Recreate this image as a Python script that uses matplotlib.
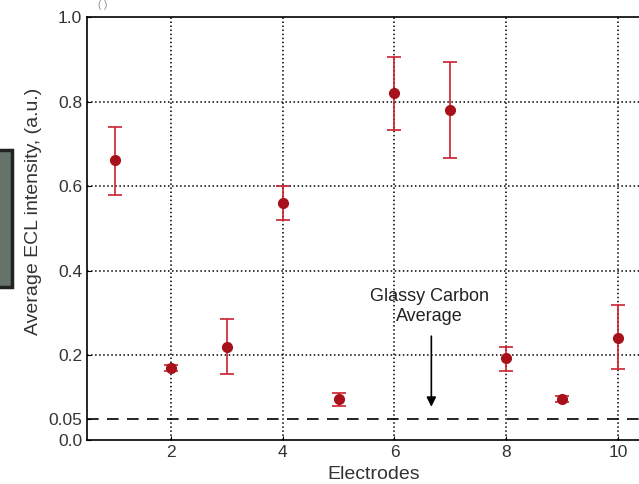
#!/usr/bin/env python3
# -*- coding: utf-8 -*-

import matplotlib
matplotlib.use('Agg')
import matplotlib.pyplot as plt
from matplotlib.patches import Rectangle

plt.rcParams['font.family'] = ['Liberation Sans', 'DejaVu Sans']

electrodes = [1, 2, 3, 4, 5, 6, 7, 8, 9, 10]
intensity = [0.661, 0.170, 0.219, 0.560, 0.096, 0.821, 0.779, 0.193, 0.097, 0.242]
err_upper = [0.739, 0.178, 0.285, 0.600, 0.111, 0.906, 0.894, 0.219, 0.105, 0.318]
err_lower = [0.579, 0.162, 0.155, 0.520, 0.080, 0.734, 0.666, 0.162, 0.089, 0.167]
glassy_carbon = 0.05

x_ticks = [2, 4, 6, 8, 10]
y_ticks = [0.0, 0.05, 0.2, 0.4, 0.6, 0.8, 1.0]
y_ticklabels = ['0.0', '0.05', '0.2', '0.4', '0.6', '0.8', '1.0']


def plot():
    fig = plt.figure(figsize=(6.39, 4.84), dpi=100)
    ax = fig.add_axes([87 / 639, 44 / 484, 559 / 639, 423 / 484])

    yerr = [[v - lo for v, lo in zip(intensity, err_lower)],
            [hi - v for v, hi in zip(intensity, err_upper)]]
    ax.errorbar(electrodes, intensity, yerr=yerr, fmt='o', color='#a8101a',
                ecolor='#cc2030', elinewidth=1.2, capsize=5, capthick=1.2,
                markersize=7, zorder=3)

    ax.axhline(glassy_carbon, color='black', linewidth=1.2, dashes=(7, 5), zorder=2)

    ax.annotate('', xy=(6.66, 0.072), xytext=(6.66, 0.252),
                arrowprops=dict(arrowstyle='-|>', color='black', lw=1.2,
                                mutation_scale=14))
    ax.text(6.62, 0.316, 'Glassy Carbon\nAverage', ha='center', va='center',
            fontsize=13, color='#222222', linespacing=1.2)

    ax.set_xlim(0.5, 10.5)
    ax.set_ylim(0.0, 1.0)
    ax.set_xticks(x_ticks)
    ax.set_yticks(y_ticks)
    ax.set_yticklabels(y_ticklabels)
    ax.tick_params(direction='in', length=3, labelsize=12.5, labelcolor='#333333')

    for t in x_ticks:
        ax.axvline(t, color='black', linestyle=':', linewidth=1.1, zorder=1)
    for t in [0.2, 0.4, 0.6, 0.8]:
        ax.axhline(t, color='black', linestyle=':', linewidth=1.1, zorder=1)

    ax.set_xlabel('Electrodes', fontsize=14, color='#333333')
    ax.set_ylabel('Average ECL intensity, (a.u.)', fontsize=14, color='#333333')
    ax.xaxis.set_label_coords(0.512, -0.062)
    ax.yaxis.set_label_coords(-0.080, 0.54)

    for s in ax.spines.values():
        s.set_linewidth(1.2)

    # grey box cut off on the left edge
    fig.patches.append(Rectangle((-10 / 639, 197 / 484), 22 / 639, 137 / 484,
                                 transform=fig.transFigure, facecolor='#65736b',
                                 edgecolor='#222222', linewidth=2.5))
    fig.text(103 / 639, 0.999, '( )', ha='center', va='top', fontsize=7,
             color='#888888')

    fig.savefig('out.png', dpi=100)


if __name__ == '__main__':
    plot()
